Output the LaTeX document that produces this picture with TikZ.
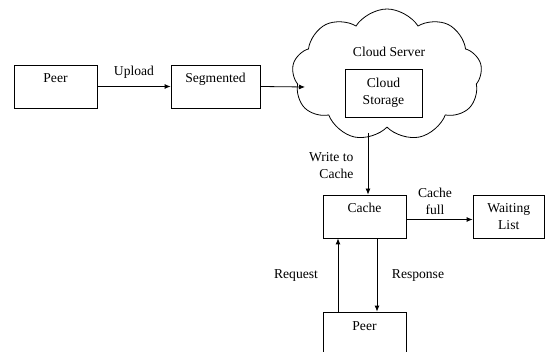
\documentclass[tikz,border=0pt]{standalone}
\usepackage{fontspec}
\setmainfont{Liberation Serif}
\usetikzlibrary{shapes.symbols,arrows.meta}

\begin{document}
\begin{tikzpicture}[x=1pt, y=-1pt,
    font=\fontsize{13.6}{17}\selectfont,
    blk/.style={draw, line width=0.8pt, inner sep=4pt, text height=14pt, text depth=21pt},
    blkc/.style={draw, line width=0.8pt, align=center, inner sep=2pt},
    arr/.style={line width=0.8pt, -{Latex[length=6pt,width=5pt]}}]
\useasboundingbox (0,0) rectangle (545,352);
\clip (0,0) rectangle (545,352);

% upload path
\node[blk, minimum width=83pt] (peer) at (55.5,86.5) {Peer};
\node[blk, minimum width=89pt] (seg) at (215.5,86.5) {Segmented};
\draw[arr] (peer.east) -- (seg.west) node[midway, above=4pt] {Upload};

% cloud
\node[cloud, draw, line width=0.8pt, cloud puffs=9, cloud puff arc=115, aspect=1.45,
      minimum width=190pt, minimum height=132pt] (cloud) at (387,75) {};
\node (srv) at (389,52) {Cloud Server};
\node[blkc, minimum width=77pt, minimum height=48pt] (store) at (383.5,93) {Cloud\\Storage};
\coordinate (cin) at (305,87);
\coordinate (cout) at (368,133);
\draw[arr] (seg.east) -- (cin);

% cache part
\node[blk, minimum width=83pt] (cache) at (364.5,216.5) {Cache};
\node[blkc, minimum width=71.5pt, minimum height=43pt] (wait) at (508.75,216.5) {Waiting\\List};
\node[blk, minimum width=83pt] (peerb) at (364.5,333.5) {Peer};
\draw[arr] (cout) -- (cout |- cache.north);
\node[align=right, anchor=east] (wlab) at (357,166) {Write to\\Cache};
\draw[arr] ([yshift=-3pt]cache.east) -- ([yshift=-3pt]wait.west);
\node[align=center] (flab) at (435,201) {Cache\\full};
\draw[arr] ([xshift=-26.5pt]peerb.north) -- ([xshift=-26.5pt]cache.south);
\node (req) at (296,275) {Request};
\draw[arr] ([xshift=12.5pt]cache.south) -- ([xshift=12.5pt]peerb.north);
\node (resp) at (418,275) {Response};
\end{tikzpicture}
\end{document}
